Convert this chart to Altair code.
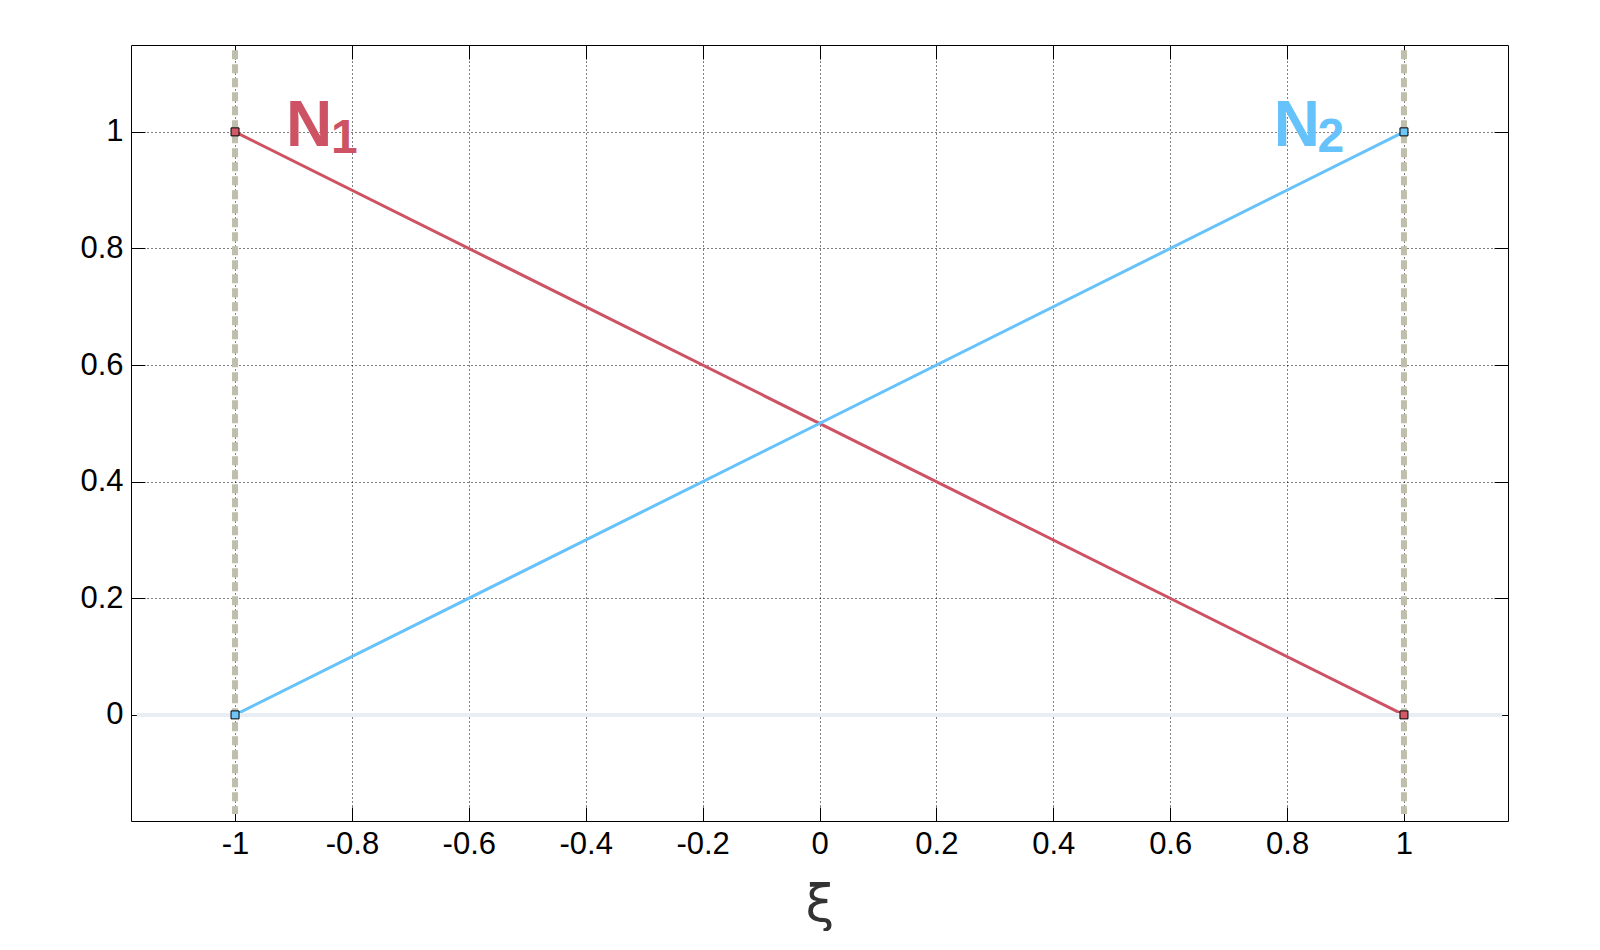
import altair as alt
import pandas as pd

# linear shape functions on the reference element
xi_nodes = [-1.0, 1.0]
n1_values = [1.0, 0.0]
n2_values = [0.0, 1.0]
series_names = ["N1", "N2"]
series_colors = ["#cd5364", "#66c2fa"]
marker_colors = ["#d05a68", "#6ec6f8"]

x_ticks = [-1, -0.8, -0.6, -0.4, -0.2, 0, 0.2, 0.4, 0.6, 0.8, 1]
y_ticks = [0, 0.2, 0.4, 0.6, 0.8, 1]
x_domain = [-1.178, 1.178]
y_domain = [-0.182, 1.149]

# element boundaries (dashed) and the zero reference line
bound_x = [-1.0, 1.0]
bound_y = [1.14, -0.17]
zero_x = [-1.168, 1.168]

# labels: main letter + subscript digit
label_main = ["N", "N"]
label_sub = ["1", "2"]
label_x = [-0.913, 0.777]
label_y = [0.976, 0.976]
sub_x = [-0.836, 0.852]
sub_y = [0.964, 0.966]
label_colors = ["#c0404f", "#5bb4f2"]

lines = pd.DataFrame({
    "xi": xi_nodes * 2,
    "N": n1_values + n2_values,
    "series": [series_names[0]] * 2 + [series_names[1]] * 2,
})
bounds = pd.DataFrame({"x": bound_x, "y": [bound_y[0]] * 2, "y2": [bound_y[1]] * 2})
zero = pd.DataFrame({"x": [zero_x[0]], "x2": [zero_x[1]], "y": [0.0]})
labels = pd.DataFrame({
    "main": label_main, "sub": label_sub, "series": series_names,
    "lx": label_x, "ly": label_y, "sx": sub_x, "sy": sub_y,
})

FONT = "Liberation Sans"
minus_fix = "replace(datum.label, '\u2212', '-')"

common_axis = dict(
    offset=-14, tickSize=14, tickColor="black", tickWidth=1, domain=False,
)
grid_style = dict(
    grid=True, gridColor="black", gridDash=[1, 3], gridWidth=1, gridOpacity=1,
)

x_bottom = alt.Axis(
    orient="bottom", values=x_ticks, format="~g", labelFont=FONT, labelFontSize=31,
    labelColor="black", labelPadding=8, labelExpr=minus_fix,
    title="ξ", titleFont="DejaVu Sans", titleFontSize=52, titleColor="#333333",
    titleFontWeight="normal", titlePadding=20,
    **common_axis, **grid_style,
)
y_left = alt.Axis(
    orient="left", values=y_ticks, format="~g", labelFont=FONT, labelFontSize=31,
    labelColor="black", labelPadding=8, labelExpr=minus_fix, title=None,
    **common_axis, **grid_style,
)
x_top = alt.Axis(orient="top", values=x_ticks, labels=False, title=None,
                 grid=False, **common_axis)
y_right = alt.Axis(orient="right", values=y_ticks, labels=False, title=None,
                   grid=False, **common_axis)

xs = alt.Scale(domain=x_domain, nice=False, zero=False)
ys = alt.Scale(domain=y_domain, nice=False, zero=False)
color = alt.Color("series:N", scale=alt.Scale(domain=series_names, range=series_colors), legend=None)

zero_line = alt.Chart(zero).mark_rule(color="#e8eef4", strokeWidth=4).encode(
    x=alt.X("x:Q", scale=xs, axis=None), x2="x2:Q",
    y=alt.Y("y:Q", scale=ys, axis=None),
)

bound_lines = alt.Chart(bounds).mark_rule(
    color="#bfbfac", strokeWidth=6, strokeDash=[9, 5]
).encode(
    x=alt.X("x:Q", scale=xs, axis=None),
    y=alt.Y("y:Q", scale=ys, axis=None), y2="y2:Q",
)

shape_lines = alt.Chart(lines).mark_line(strokeWidth=3).encode(
    x=alt.X("xi:Q", scale=xs, axis=x_bottom),
    y=alt.Y("N:Q", scale=ys, axis=y_left),
    color=color,
    detail="series:N",
)

markers = alt.Chart(lines).mark_square(size=64, stroke="black", strokeWidth=1, opacity=1).encode(
    x=alt.X("xi:Q", scale=xs, axis=x_top),
    y=alt.Y("N:Q", scale=ys, axis=y_right),
    fill=alt.Fill("series:N", scale=alt.Scale(domain=series_names, range=marker_colors), legend=None),
)

text_color = alt.Color("series:N", scale=alt.Scale(domain=series_names, range=label_colors), legend=None)

main_text = alt.Chart(labels).mark_text(
    font=FONT, fontSize=64, fontWeight="bold", align="left", baseline="alphabetic"
).encode(
    x=alt.X("lx:Q", scale=xs, axis=None),
    y=alt.Y("ly:Q", scale=ys, axis=None),
    text="main:N",
    color=text_color,
)

sub_text = alt.Chart(labels).mark_text(
    font=FONT, fontSize=48, fontWeight="bold", align="left", baseline="alphabetic"
).encode(
    x=alt.X("sx:Q", scale=xs, axis=None),
    y=alt.Y("sy:Q", scale=ys, axis=None),
    text="sub:N",
    color=text_color,
)

chart = alt.layer(
    shape_lines, zero_line, bound_lines, markers, main_text, sub_text
).resolve_axis(
    x="independent", y="independent"
).properties(
    width=1377, height=776,
    autosize="none",
    padding={"left": 123, "top": 37, "right": 80, "bottom": 110},
    background="white",
).configure_view(
    stroke="black", strokeWidth=1
)

chart.save("out.html", embed_options={"renderer": "svg", "actions": False})
